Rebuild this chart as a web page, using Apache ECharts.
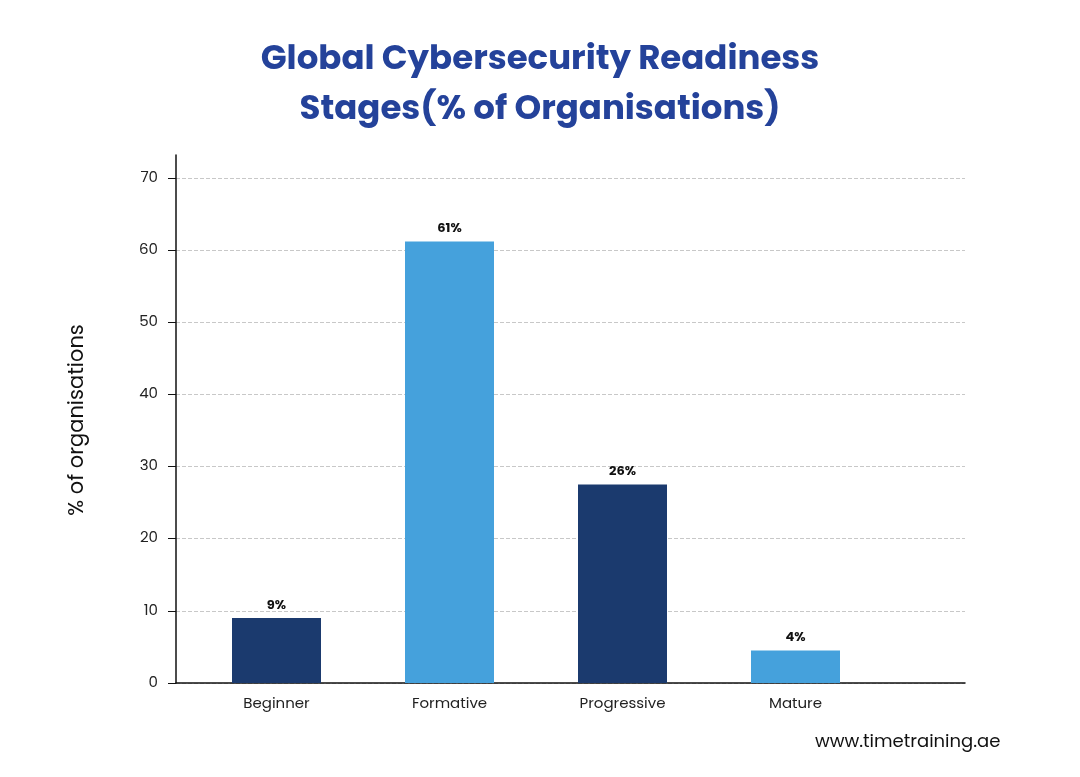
<!DOCTYPE html>
<html><head><meta charset="utf-8">
<script src="https://cdn.jsdelivr.net/npm/echarts@6/dist/echarts.min.js"></script>
<style>html,body{margin:0;background:#fff}#c{width:1080px;height:777px}</style>
</head><body><div id="c"></div>
<script>
const categories = ['Beginner', 'Formative', 'Progressive', 'Mature'];
const values = [9, 61.2, 27.5, 4.5];
const valueLabels = ['9%', '61%', '26%', '4%'];
const barColors = ['#1b3a6e', '#45a1dc', '#1b3a6e', '#45a1dc'];
const yTicks = [0, 10, 20, 30, 40, 50, 60, 70];

const font = 'Poppins, Inter, "Noto Sans", sans-serif';
const chart = echarts.init(document.getElementById('c'));
chart.setOption({
  backgroundColor: '#fff',
  title: {
    text: 'Global Cybersecurity Readiness\nStages(% of Organisations)',
    left: 'center', top: 30,
    textStyle: {color: '#24429a', fontSize: 34, fontWeight: 'bold', fontFamily: font, lineHeight: 50}
  },
  graphic: [
    {type: 'text', left: 815, top: 733, style: {text: 'www.timetraining.ae', fontSize: 18, fill: '#111', fontFamily: font}},
    {type: 'text', x: 78, y: 420, rotation: Math.PI / 2, style: {text: '% of organisations', fontSize: 21, fill: '#111', fontFamily: font, align: 'center', verticalAlign: 'middle'}}
  ],
  grid: [
    {left: 176, right: 115, top: 155, bottom: 94},
    {left: 176, right: 115, top: 178, bottom: 94},
    {left: 190, right: 198, top: 178, bottom: 94}
  ],
  xAxis: [
    {gridIndex: 0, type: 'value', min: 0, max: 1, axisLine: {show: true, lineStyle: {color: '#111', width: 1.5}}, axisTick: {show: false}, axisLabel: {show: false}, splitLine: {show: false}},
    {gridIndex: 1, type: 'value', min: 0, max: 1, show: false},
    {gridIndex: 2, type: 'category', data: categories, axisLine: {show: false}, axisTick: {show: false},
     axisLabel: {color: '#222', fontSize: 15, fontFamily: font, margin: 14}}
  ],
  yAxis: [
    {gridIndex: 0, type: 'value', min: 0, max: 73, axisLine: {show: true, lineStyle: {color: '#111', width: 1.5}}, axisTick: {show: false}, axisLabel: {show: false}, splitLine: {show: false}},
    {gridIndex: 1, type: 'value', min: yTicks[0], max: yTicks[yTicks.length - 1], interval: 10,
     axisLine: {show: false}, axisTick: {show: true, length: 8, lineStyle: {color: '#111'}},
     axisLabel: {color: '#222', fontSize: 15, fontFamily: font, margin: 18},
     splitLine: {lineStyle: {color: '#c8c8c8', type: 'dashed'}}},
    {gridIndex: 2, type: 'value', min: 0, max: 70, show: false}
  ],
  series: [{
    type: 'bar', xAxisIndex: 2, yAxisIndex: 2, barWidth: 89,
    data: values.map((v, i) => ({value: v, itemStyle: {color: barColors[i]}})),
    label: {show: true, position: 'top', formatter: p => valueLabels[p.dataIndex], color: '#111', fontSize: 13, fontWeight: 'bold', fontFamily: font, distance: 6}
  }]
});
</script></body></html>
